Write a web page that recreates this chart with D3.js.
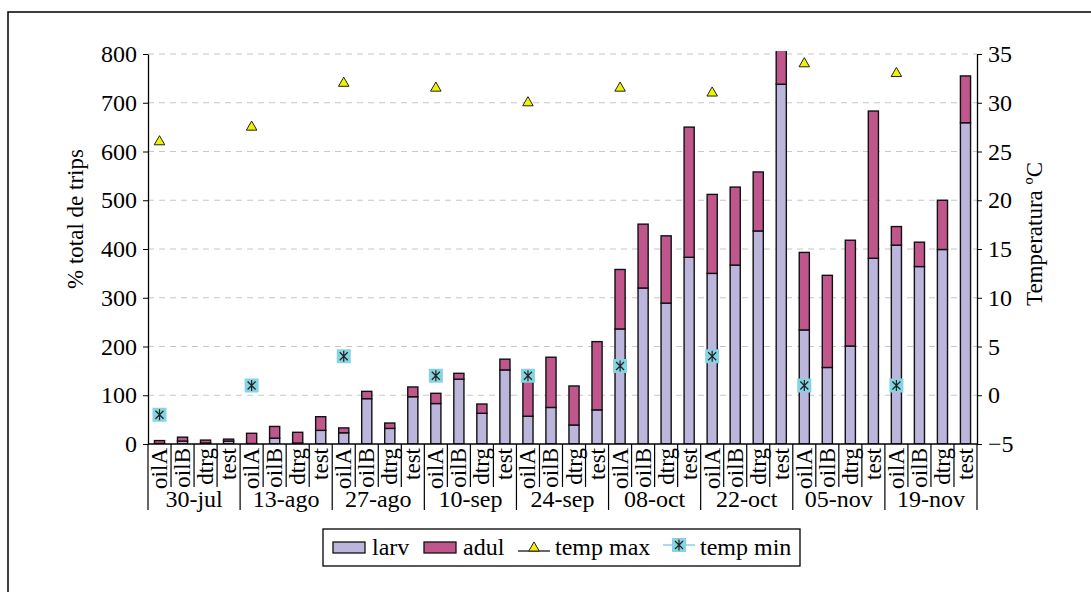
<!DOCTYPE html>
<html>
<head>
<meta charset="utf-8">
<script src="https://cdn.jsdelivr.net/npm/d3@7"></script>
<style>
  body { margin: 0; background: #fff; }
  svg text { font-family: "Liberation Serif", "Times New Roman", "DejaVu Serif", serif !important; fill: #000; }
</style>
</head>
<body>
<div id="chart"></div>
<script>
// data
const dates = ["30-jul", "13-ago", "27-ago", "10-sep", "24-sep", "08-oct", "22-oct", "05-nov", "19-nov"];
const treatments = ["oilA", "oilB", "dtrg", "test"];
const larv = [
    1, 6, 2, 6,
    1, 12, 2, 28,
    23, 93, 32, 97,
    83, 133, 63, 152,
    57, 75, 39, 70,
    236, 320, 289, 383,
    350, 367, 437, 738,
    234, 157, 201, 381,
    408, 364, 399, 659
];
const adul = [
    6, 8, 6, 4,
    21, 24, 22, 28,
    10, 15, 11, 20,
    21, 12, 19, 22,
    83, 103, 80, 140,
    122, 131, 138, 267,
    162, 160, 121, 90,
    159, 189, 217, 302,
    38, 50, 101, 96
];
const tempMax = [26, 27.5, 32, 31.5, 30, 31.5, 31, 34, 33];
const tempMin = [-2, 1, 4, 2, 2, 3, 4, 1, 1];
const leftTicks = [0, 100, 200, 300, 400, 500, 600, 700, 800];
const rightTicks = [-5, 0, 5, 10, 15, 20, 25, 30, 35];

const colLarv = "#bdb6dc", colAdul = "#c0578c";
const FONT = "'Liberation Serif', 'Times New Roman', 'DejaVu Serif', serif";

const W = 1091, H = 592;
const plot = {left: 148, right: 977, top: 54, bottom: 444};

const svg = d3.select("#chart").append("svg")
    .attr("width", W).attr("height", H)
    .attr("font-family", FONT);

// outer frame
svg.append("rect")
    .attr("x", 8).attr("y", 12)
    .attr("width", 1200).attr("height", 700)
    .attr("fill", "none").attr("stroke", "#000").attr("stroke-width", 1.5);

// rows: one per date x treatment
let rows = [];
dates.forEach((d, gi) => {
    treatments.forEach((t, ti) => {
        let i = gi * 4 + ti;
        rows.push({i: i, date: d, treat: t, larv: larv[i], adul: adul[i]});
    });
});

const x = d3.scaleBand()
    .domain(rows.map(d => d.i))
    .range([plot.left, plot.right])
    .paddingInner(0.56).paddingOuter(0.28);
const step = x.step();
const xc = i => x(i) + x.bandwidth() / 2;

const y = d3.scaleLinear().domain([0, 800]).range([plot.bottom, plot.top]);
const yR = d3.scaleLinear().domain([-5, 35]).range([plot.bottom, plot.top]);

// gridlines
svg.append("g")
    .selectAll("line")
    .data(leftTicks.filter(v => v > 0))
    .join("line")
    .attr("x1", plot.left).attr("x2", plot.right)
    .attr("y1", d => y(d)).attr("y2", d => y(d))
    .attr("stroke", "#c8c8c8").attr("stroke-width", 1.2)
    .attr("stroke-dasharray", "6,5");

// bars, clipped to the plot area
svg.append("clipPath").attr("id", "clip")
    .append("rect")
    .attr("x", plot.left).attr("y", plot.top - 3)
    .attr("width", plot.right - plot.left).attr("height", plot.bottom - plot.top + 3);

const stack = d3.stack().keys(["larv", "adul"])(rows);
const colors = {larv: colLarv, adul: colAdul};

svg.append("g").attr("clip-path", "url(#clip)")
    .selectAll("g")
    .data(stack)
    .join("g")
    .attr("fill", d => colors[d.key])
    .selectAll("rect")
    .data(d => d)
    .join("rect")
    .attr("x", d => x(d.data.i))
    .attr("width", x.bandwidth())
    .attr("y", d => y(d[1]))
    .attr("height", d => y(d[0]) - y(d[1]))
    .attr("stroke", "#111").attr("stroke-width", 1.4);

// left axis
const axL = svg.append("g")
    .attr("transform", `translate(${plot.left},0)`)
    .call(d3.axisLeft(y).tickValues(leftTicks).tickSize(5).tickPadding(6).tickSizeOuter(0));
axL.attr("font-family", FONT).attr("font-size", 24);
axL.select(".domain").attr("stroke", "#000").attr("stroke-width", 1.3);
axL.selectAll(".tick line").attr("stroke", "#000");

// right axis
const axR = svg.append("g")
    .attr("transform", `translate(${plot.right},0)`)
    .call(d3.axisRight(yR).tickValues(rightTicks).tickSize(5).tickPadding(6).tickSizeOuter(0));
axR.attr("font-family", FONT).attr("font-size", 24);
axR.select(".domain").attr("stroke", "#000").attr("stroke-width", 1.3);
axR.selectAll(".tick line").attr("stroke", "#000");

// category axis
const cat = svg.append("g");
cat.append("line")
    .attr("x1", plot.left).attr("x2", plot.right)
    .attr("y1", plot.bottom).attr("y2", plot.bottom)
    .attr("stroke", "#000").attr("stroke-width", 1.3);

const bounds = d3.range(rows.length + 1);
cat.selectAll("line.sep")
    .data(bounds)
    .join("line")
    .attr("class", "sep")
    .attr("x1", d => plot.left + d * step).attr("x2", d => plot.left + d * step)
    .attr("y1", plot.bottom)
    .attr("y2", d => d % 4 === 0 ? 510 : 487)
    .attr("stroke", "#000").attr("stroke-width", 1.2);

cat.selectAll("text.treat")
    .data(rows)
    .join("text")
    .attr("class", "treat")
    .attr("transform", d => `translate(${xc(d.i)},${plot.bottom + 4}) rotate(-90)`)
    .attr("text-anchor", "end")
    .attr("dominant-baseline", "central")
    .attr("font-size", 23)
    .text(d => d.treat);

cat.selectAll("text.date")
    .data(dates)
    .join("text")
    .attr("class", "date")
    .attr("x", (d, gi) => plot.left + (gi * 4 + 2) * step)
    .attr("y", 507)
    .attr("text-anchor", "middle")
    .attr("font-size", 24)
    .text(d => d);

// temperature markers (one value per date, at the oilA slot)
const triangle = d3.symbol().type(d3.symbolTriangle).size(48);
svg.append("g")
    .selectAll("path")
    .data(tempMax)
    .join("path")
    .attr("d", triangle)
    .attr("transform", (d, gi) => `translate(${xc(gi * 4)},${yR(d)})`)
    .attr("fill", "#f2f200").attr("stroke", "#222").attr("stroke-width", 1);

function starMarker(g) {
    g.append("rect").attr("x", -7).attr("y", -7).attr("width", 14).attr("height", 14)
        .attr("fill", "#84d4e2");
    g.append("path")
        .attr("d", "M0,-5.5V5.5M-4,-4L4,4M-4,4L4,-4")
        .attr("stroke", "#222").attr("stroke-width", 1.2).attr("fill", "none");
}
svg.append("g")
    .selectAll("g")
    .data(tempMin)
    .join("g")
    .attr("transform", (d, gi) => `translate(${xc(gi * 4)},${yR(d)})`)
    .each(function() { starMarker(d3.select(this)); });

// axis titles
svg.append("text")
    .attr("transform", `translate(83,219) rotate(-90)`)
    .attr("text-anchor", "middle")
    .attr("font-size", 23)
    .text("% total de trips");

svg.append("text")
    .attr("transform", `translate(1042,234) rotate(-90)`)
    .attr("text-anchor", "middle")
    .attr("font-size", 23)
    .text("Temperatura ºC");

// legend
const lg = svg.append("g");
lg.append("rect")
    .attr("x", 323).attr("y", 529).attr("width", 477).attr("height", 37)
    .attr("fill", "#fff").attr("stroke", "#000").attr("stroke-width", 1.3);

const ly = 555;
lg.append("rect").attr("x", 333).attr("y", 542).attr("width", 32).attr("height", 11)
    .attr("fill", colLarv).attr("stroke", "#111").attr("stroke-width", 1.3);
lg.append("text").attr("x", 372).attr("y", ly).attr("font-size", 24).text("larv");

lg.append("rect").attr("x", 424).attr("y", 542).attr("width", 32).attr("height", 11)
    .attr("fill", colAdul).attr("stroke", "#111").attr("stroke-width", 1.3);
lg.append("text").attr("x", 463).attr("y", ly).attr("font-size", 24).text("adul");

lg.append("line").attr("x1", 518).attr("x2", 550).attr("y1", 551).attr("y2", 551)
    .attr("stroke", "#000").attr("stroke-width", 1.2);
lg.append("path").attr("d", triangle)
    .attr("transform", `translate(534,548)`)
    .attr("fill", "#f2f200").attr("stroke", "#222").attr("stroke-width", 1);
lg.append("text").attr("x", 555).attr("y", ly).attr("font-size", 24).text("temp max");

lg.append("line").attr("x1", 663).attr("x2", 695).attr("y1", 545).attr("y2", 545)
    .attr("stroke", "#84d4e2").attr("stroke-width", 1.5);
const lm = lg.append("g").attr("transform", "translate(679,545)");
starMarker(lm);
lg.append("text").attr("x", 700).attr("y", ly).attr("font-size", 24).text("temp min");
</script>
</body>
</html>
